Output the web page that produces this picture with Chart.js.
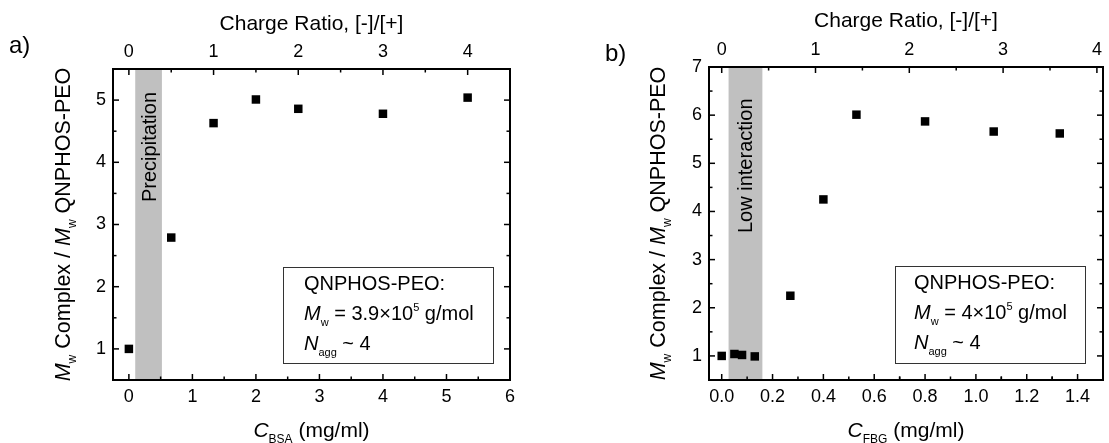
<!DOCTYPE html>
<html>
<head>
<meta charset="utf-8">
<script src="https://cdn.jsdelivr.net/npm/chart.js@4/dist/chart.umd.min.js"></script>
<style>
  html, body { margin: 0; padding: 0; background: #fff; }
  #wrap { position: relative; width: 1109px; height: 443px; overflow: hidden; }
  canvas { position: absolute; top: 0; }
</style>
</head>
<body>
<div id="wrap">
  <canvas id="chartA" width="555" height="443" style="left:0px"></canvas>
  <canvas id="chartB" width="554" height="443" style="left:555px"></canvas>
</div>
<script>
// ======================================================
// DATA
// ======================================================
// Panel a) BSA
const bsaConc        = [0, 0.667, 1.333, 2, 2.667, 4, 5.333];
const bsaMwRatio     = [1.00, 2.79, 4.63, 5.01, 4.86, 4.78, 5.04];
const bsaXTicks      = [0, 1, 2, 3, 4, 5, 6];
const bsaYTicks      = [1, 2, 3, 4, 5];
const bsaChargeTicks = [0, 1, 2, 3, 4];
const bsaBand        = [0.1, 0.52];

// Panel b) FBG
const fbgConc        = [0, 0.05, 0.08, 0.13, 0.27, 0.40, 0.53, 0.80, 1.07, 1.33];
const fbgMwRatio     = [1.00, 1.04, 1.02, 0.99, 2.25, 4.25, 6.01, 5.87, 5.66, 5.62];
const fbgXTicks      = [0, 0.2, 0.4, 0.6, 0.8, 1.0, 1.2, 1.4];
const fbgYTicks      = [1, 2, 3, 4, 5, 6, 7];
const fbgChargeTicks = [0, 1, 2, 3, 4];
const fbgBand        = [0.027, 0.16];

// ── Shared defaults ───────────────────────────────────
const FONT = "'Liberation Sans', Arial, Helvetica, sans-serif";
Chart.defaults.font.family = FONT;
Chart.defaults.color       = '#000';

function setFont(ctx, size, italic) {
    ctx.font = (italic ? 'italic ' : '') + size + 'px ' + FONT;
}

// parts: [[text, kind]]   kind: '' | 'i' | 'sub' | 'sup'
function richText(ctx, parts, x, y, size, align) {
    const small = Math.round(size * 0.55);
    const pieces = parts.map(([t, k]) => {
        const sz = (k === 'sub' || k === 'sup') ? small : size;
        setFont(ctx, sz, k === 'i');
        return { t, k, sz, w: ctx.measureText(t).width };
    });
    const total = pieces.reduce((s, p) => s + p.w, 0);
    let cx = align === 'center' ? x - total / 2 : x;
    ctx.textAlign = 'left';
    ctx.textBaseline = 'alphabetic';
    pieces.forEach(p => {
        setFont(ctx, p.sz, p.k === 'i');
        let dy = 0;
        if (p.k === 'sub') dy = size * 0.30;
        if (p.k === 'sup') dy = -size * 0.45;
        ctx.fillText(p.t, cx, y + dy);
        cx += p.w;
    });
}

// ======================================================
// DECORATION PLUGIN (band, frame, inward ticks, texts)
// ======================================================
const decorPlugin = {
    id: 'decor',
    beforeDatasetsDraw(chart, args, o) {
        const { ctx, chartArea: a, scales } = chart;
        const x1 = scales.x.getPixelForValue(o.band[0]);
        const x2 = scales.x.getPixelForValue(o.band[1]);
        ctx.save();
        ctx.fillStyle = '#c0c0c0';
        ctx.fillRect(x1, a.top, x2 - x1, a.bottom - a.top);

        // rotated band label
        ctx.fillStyle = '#000';
        ctx.translate(o.bandText.x, o.bandText.y);
        ctx.rotate(-Math.PI / 2);
        setFont(ctx, 20, false);
        ctx.textAlign = 'left';
        ctx.textBaseline = 'alphabetic';
        ctx.fillText(o.bandText.text, 0, 0);
        ctx.restore();
    },
    afterDraw(chart, args, o) {
        const { ctx, chartArea: a, scales } = chart;
        ctx.save();
        ctx.strokeStyle = '#000';
        ctx.fillStyle = '#000';

        // frame
        ctx.lineWidth = 2;
        ctx.strokeRect(a.left, a.top, a.right - a.left, a.bottom - a.top);

        // inward ticks
        ctx.lineWidth = 1.5;
        const tick = (scale, vals, len, side) => {
            vals.forEach(v => {
                if (v < scale.min - 1e-9 || v > scale.max + 1e-9) return;
                const p = scale.getPixelForValue(v);
                ctx.beginPath();
                if (side === 'bottom') { ctx.moveTo(p, a.bottom); ctx.lineTo(p, a.bottom - len); }
                if (side === 'top')    { ctx.moveTo(p, a.top);    ctx.lineTo(p, a.top + len); }
                if (side === 'left')   { ctx.moveTo(a.left, p);   ctx.lineTo(a.left + len, p); }
                if (side === 'right')  { ctx.moveTo(a.right, p);  ctx.lineTo(a.right - len, p); }
                ctx.stroke();
            });
        };
        const minors = (vals, step) => vals.map(v => v + step)
            .concat(vals.map(v => v - step))
            .filter((v, i, arr) => arr.indexOf(v) === i);
        tick(scales.x, o.xTicks, 6, 'bottom');
        tick(scales.x, minors(o.xTicks, o.xMinor), 3.5, 'bottom');
        tick(scales.xTop, o.cTicks, 6, 'top');
        tick(scales.xTop, minors(o.cTicks, 0.5), 3.5, 'top');
        tick(scales.y, o.yTicks, 6, 'left');
        tick(scales.y, minors(o.yTicks, 0.5), 3.5, 'left');
        tick(scales.yRight, o.yTicks, 6, 'right');
        tick(scales.yRight, minors(o.yTicks, 0.5), 3.5, 'right');

        const cx = (a.left + a.right) / 2;
        const cy = (a.top + a.bottom) / 2;

        // top title
        richText(ctx, [['Charge Ratio, [-]/[+]', '']], cx, o.topTitleY, 21, 'center');

        // bottom title
        richText(ctx, [['C', 'i'], [o.subst, 'sub'], [' (mg/ml)', '']], cx, 437, 21, 'center');

        // y title
        ctx.save();
        ctx.translate(o.yTitleX, cy);
        ctx.rotate(-Math.PI / 2);
        richText(ctx, [['M', 'i'], ['w', 'sub'], [' Complex / ', ''], ['M', 'i'], ['w', 'sub'], [' QNPHOS-PEO', '']],
                 0, 0, 21.5, 'center');
        ctx.restore();

        // panel letter
        setFont(ctx, 24, false);
        ctx.textAlign = 'left';
        ctx.textBaseline = 'alphabetic';
        ctx.fillText(o.letter, o.letterX, o.letterY);

        // info box
        const bw = o.box.w, bh = o.box.h;
        const bx = a.right - o.box.r - bw;
        const by = a.bottom - o.box.b - bh;
        ctx.fillStyle = '#fff';
        ctx.fillRect(bx, by, bw, bh);
        ctx.strokeStyle = '#333';
        ctx.lineWidth = 1;
        ctx.strokeRect(bx + 0.5, by + 0.5, bw, bh);
        ctx.fillStyle = '#000';
        const tx = bx + o.box.pad;
        richText(ctx, [['QNPHOS-PEO:', '']], tx, by + 23, 20, 'left');
        richText(ctx, [['M', 'i'], ['w', 'sub'], [' = ' + o.mw + '\u00d710', ''], ['5', 'sup'], [' g/mol', '']],
                 tx, by + 53, 20, 'left');
        richText(ctx, [['N', 'i'], ['agg', 'sub'], [' ~ 4', '']], tx, by + 83, 20, 'left');
        ctx.restore();
    }
};

// ======================================================
// CHART FACTORY
// ======================================================
function axis(position, min, max, ticks, size, pad, fmt, showLabels) {
    return {
        type: 'linear',
        position: position,
        min: min,
        max: max,
        afterBuildTicks: s => { s.ticks = ticks.map(v => ({ value: v })); },
        afterFit: s => {
            if (position === 'left' || position === 'right') s.width = size;
            else s.height = size;
        },
        grid:   { display: false, drawTicks: false },
        border: { display: false },
        ticks: {
            display: showLabels,
            padding: pad,
            autoSkip: false,
            maxRotation: 0,
            color: '#000',
            font: { size: 18 },
            callback: fmt
        }
    };
}

function makeChart(id, cfg) {
    const ctx = document.getElementById(id).getContext('2d');
    return new Chart(ctx, {
        type: 'scatter',
        data: {
            datasets: [{
                data: cfg.xs.map((x, i) => ({ x: x, y: cfg.ys[i] })),
                pointStyle: 'rect',
                pointRadius: 6,
                pointHoverRadius: 6,
                backgroundColor: '#000',
                borderColor: '#000',
                borderWidth: 0
            }]
        },
        options: {
            responsive: false,
            devicePixelRatio: 1,
            animation: false,
            events: [],
            layout: { padding: 0 },
            plugins: {
                legend: { display: false },
                tooltip: { enabled: false },
                decor: cfg.decor
            },
            scales: {
                x:      axis('bottom', cfg.xMin, cfg.xMax, cfg.xTicks, cfg.bottomH, 6, cfg.xFmt, true),
                xTop:   axis('top', cfg.cMin, cfg.cMax, cfg.cTicks, cfg.topH, 6, v => String(v), true),
                y:      axis('left', cfg.yMin, cfg.yMax, cfg.yTicks, cfg.leftW, 7, v => String(v), true),
                yRight: axis('right', cfg.yMin, cfg.yMax, cfg.yTicks, cfg.rightW, 0, v => '', false)
            }
        },
        plugins: [decorPlugin]
    });
}

// ======================================================
// PANEL a) BSA
// ======================================================
const BSA_PER_CHARGE = 4 / 3;   // mg/ml per unit charge ratio
makeChart('chartA', {
    xs: bsaConc, ys: bsaMwRatio,
    xMin: -0.25, xMax: 6, xTicks: bsaXTicks, xFmt: v => String(v),
    yMin: 0.5, yMax: 5.5, yTicks: bsaYTicks,
    cMin: -0.25 / BSA_PER_CHARGE, cMax: 6 / BSA_PER_CHARGE, cTicks: bsaChargeTicks,
    leftW: 113, rightW: 45, topH: 69, bottomH: 63,
    decor: {
        band: bsaBand,
        bandText: { text: 'Precipitation', x: 156, y: 202 },
        xTicks: bsaXTicks, xMinor: 0.5, yTicks: bsaYTicks, cTicks: bsaChargeTicks,
        topTitleY: 30, yTitleX: 70, subst: 'BSA',
        letter: 'a)', letterX: 9, letterY: 53,
        box: { w: 210, h: 96, r: 17, b: 17, pad: 21 },
        mw: '3.9'
    }
});

// ======================================================
// PANEL b) FBG
// ======================================================
const FBG_PER_CHARGE = 0.369;   // mg/ml per unit charge ratio
makeChart('chartB', {
    xs: fbgConc, ys: fbgMwRatio,
    xMin: -0.05, xMax: 1.5, xTicks: fbgXTicks, xFmt: v => v.toFixed(1),
    yMin: 0.5, yMax: 7, yTicks: fbgYTicks,
    cMin: -0.05 / FBG_PER_CHARGE, cMax: 1.5 / FBG_PER_CHARGE, cTicks: fbgChargeTicks,
    leftW: 154, rightW: 2, topH: 67, bottomH: 63,
    decor: {
        band: fbgBand,
        bandText: { text: 'Low interaction', x: 197, y: 233 },
        xTicks: fbgXTicks, xMinor: 0.1, yTicks: fbgYTicks, cTicks: fbgChargeTicks,
        topTitleY: 27, yTitleX: 110, subst: 'FBG',
        letter: 'b)', letterX: 50, letterY: 61,
        box: { w: 190, h: 97, r: 18, b: 17, pad: 19 },
        mw: '4'
    }
});
</script>
</body>
</html>
